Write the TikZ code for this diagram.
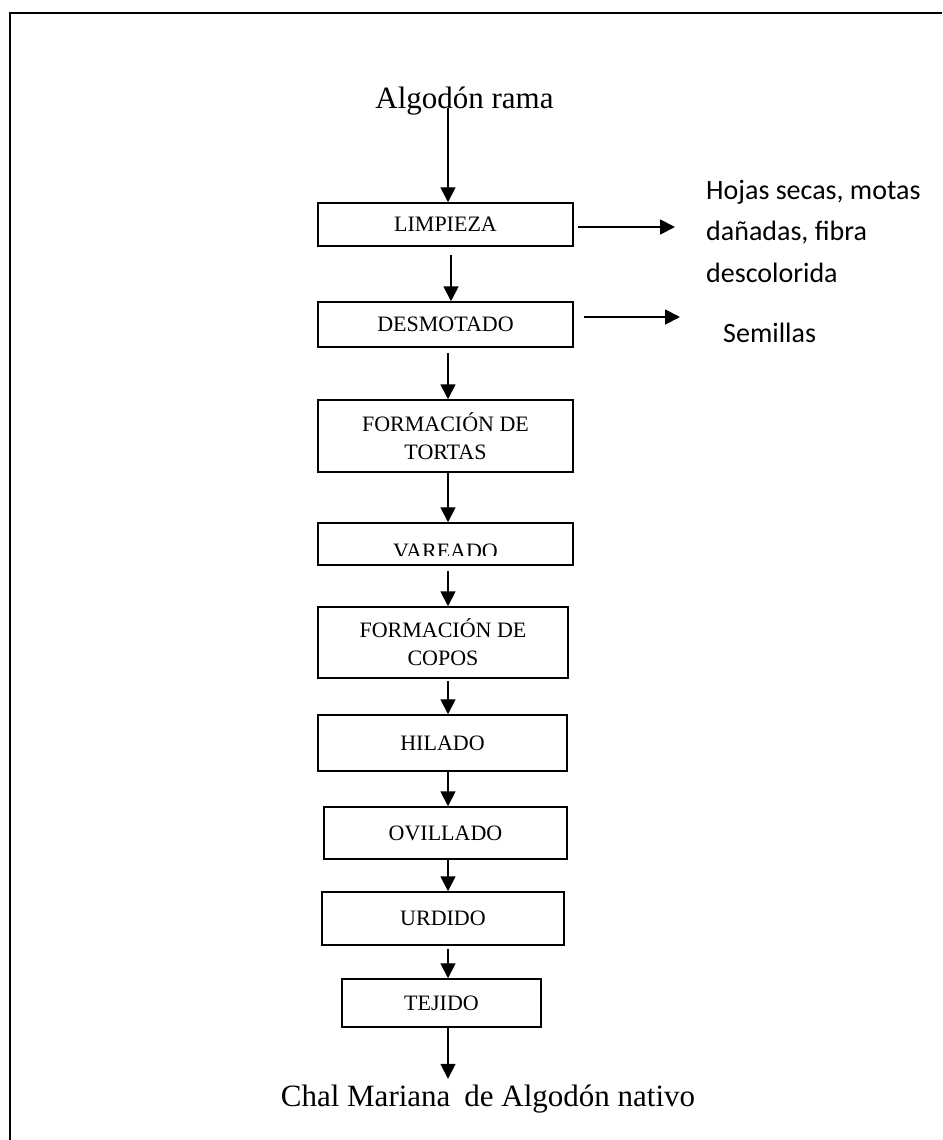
\documentclass[tikz,border=0pt]{standalone}
\usepackage{fontspec}
\setmainfont{Liberation Serif}
\newfontfamily\sidefont{Carlito}
\usetikzlibrary{arrows.meta,calc}

\tikzset{
  stage/.style={draw, line width=1.5pt, inner sep=0pt, align=center,
    font=\fontsize{22}{28}\selectfont},
  arr/.style={line width=1.8pt, -{Triangle[length=15pt,width=15pt]}},
  frame/.style={line width=2pt},
  title/.style={inner sep=0pt, font=\fontsize{31}{36}\selectfont},
  side/.style={inner sep=0pt, font=\sidefont\fontsize{28}{41.5}\selectfont}
}

\begin{document}
\begin{tikzpicture}[x=1pt,y=-1pt]
  \useasboundingbox (0,0) rectangle (942,1140);
  \fill[white] (0,0) rectangle (942,1140);

  % page frame, running off the right and bottom edges
  \draw[frame] (10,1140) -- (10,13) -- (942,13);

  % flow axis
  \coordinate (axis) at (448,0);
  \coordinate (axisb) at (451,0);

  % input and output
  \node[title, anchor=base] (top) at (464.5,108) {Algodón rama};
  \node[title, anchor=base, text height=22pt] (final) at (488,1106) {Chal Mariana\hspace{0.45em}de Algodón nativo};

  % process stages
  \node[stage, minimum width=255pt, minimum height=43pt] (limp) at (445.5,224.5) {LIMPIEZA};
  \node[stage, minimum width=255pt, minimum height=45pt] (desm) at (445.5,324.5) {DESMOTADO};
  \node[stage, minimum width=255pt, minimum height=72pt] (tort) at (445.5,436) {FORMACIÓN DE\\TORTAS};
  \node[stage, minimum width=255pt, minimum height=42pt] (var) at (445.5,544) {};
  \node[stage, minimum width=250pt, minimum height=71pt] (copo) at (443,642.5) {FORMACIÓN DE\\COPOS};
  \node[stage, minimum width=249pt, minimum height=56pt] (hil) at (442.5,743) {HILADO};
  \node[stage, minimum width=243pt, minimum height=52pt] (ovi) at (445.5,833) {OVILLADO};
  \node[stage, minimum width=242pt, minimum height=53pt] (urd) at (443,918.5) {URDIDO};
  \node[stage, minimum width=199pt, minimum height=48pt] (tej) at (441.5,1003) {TEJIDO};

  % label of the VAREADO box, cut off at its lower part
  \begin{scope}
    \clip (var.north west) rectangle ($(var.south east)+(0,-10)$);
    \node[inner sep=0pt, anchor=base, font=\fontsize{22}{28}\selectfont] (varlabel) at (445.5,558) {VAREADO};
  \end{scope}

  % by-products
  \node[side, anchor=base west] (waste) at (706,199)
    {\begin{tabular}[t]{@{}l@{}}Hojas secas, motas\\dañadas, fibra\\descolorida\end{tabular}};
  \node[side, anchor=base west] (seeds) at (723,342) {Semillas};

  % main flow
  \draw[arr] (top.base -| axis) -- (limp.north -| axis);
  \draw[arr, shorten <=8pt] (limp.south -| axisb) -- (desm.north -| axisb);
  \draw[arr, shorten <=5pt] (desm.south -| axis) -- (tort.north -| axis);
  \draw[arr] (tort.south -| axis) -- (var.north -| axis);
  \draw[arr, shorten <=5pt] (var.south -| axis) -- (copo.north -| axis);
  \draw[arr, shorten <=2pt] (copo.south -| axis) -- (hil.north -| axis);
  \draw[arr] (hil.south -| axis) -- (ovi.north -| axis);
  \draw[arr] (ovi.south -| axis) -- (urd.north -| axis);
  \draw[arr, shorten <=3pt] (urd.south -| axis) -- (tej.north -| axis);
  \draw[arr, shorten >=5pt] (tej.south -| axis) -- (final.north -| axis);

  % side outputs
  \coordinate (la) at ($(limp.east)+(0,2.5)$);
  \coordinate (da) at ($(desm.east)+(0,-7.5)$);
  \draw[arr, shorten <=4pt, shorten >=31pt] (la) -- (la -| waste.west);
  \draw[arr, shorten <=10pt, shorten >=43pt] (da) -- (da -| seeds.west);
\end{tikzpicture}
\end{document}
